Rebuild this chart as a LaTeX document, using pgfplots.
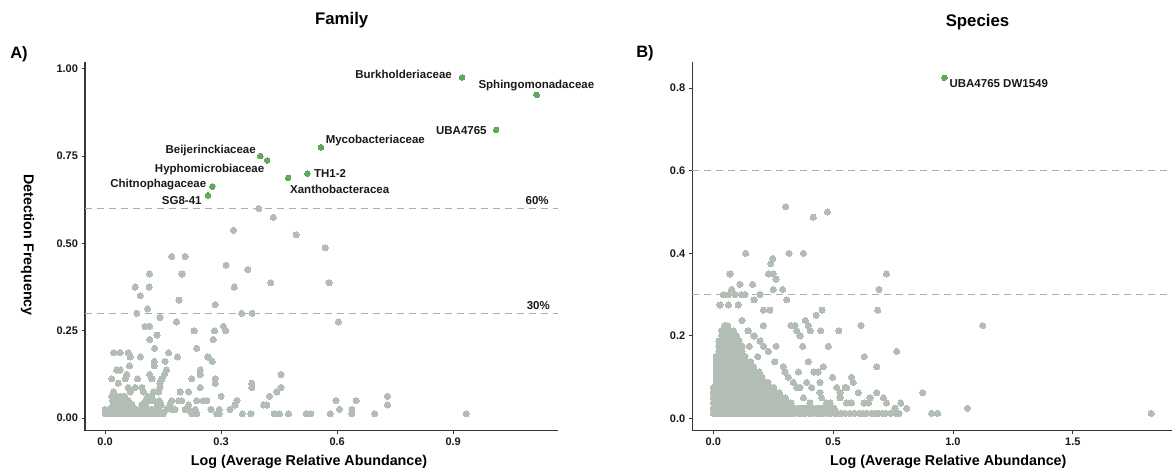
\documentclass[border=0pt]{standalone}
\usepackage{fontspec}
\setmainfont{Liberation Sans}
\usepackage{pgfplots}
\pgfplotsset{compat=1.18}
\definecolor{ptgrey}{RGB}{178,190,181}
\definecolor{ptgreen}{RGB}{98,168,90}
\definecolor{refgrey}{RGB}{172,172,172}
\definecolor{axgrey}{RGB}{55,55,55}
\pgfplotsset{base/.style={scale only axis, axis lines=left,
  axis line style={-, draw=axgrey, line width=1.2pt},
  tick align=outside, major tick length=3.5pt,
  every tick/.style={draw=axgrey, line width=0.9pt},
  tick label style={font=\fontsize{11}{13}\selectfont\bfseries, text=black!90},
  /pgf/number format/assume math mode=true, scaled ticks=false, clip=false},
  greypts/.style={color=ptgrey, only marks, mark=*, mark size=3.1pt, mark options={draw=ptgrey, fill=ptgrey, line width=0pt}},
  greenpts/.style={color=ptgreen, only marks, mark=*, mark size=2.8pt, mark options={draw=ptgreen, fill=ptgreen, line width=0pt}},
  refline/.style={draw=refgrey, line width=1.4pt, dash pattern=on 7pt off 5pt, no marks}}
\tikzset{lab/.style={font=\fontsize{11.5}{13}\selectfont\bfseries, inner sep=0pt, text=black!90}}
\begin{document}
\begin{tikzpicture}
\path[use as bounding box] (0pt,0pt) rectangle (1174pt,474pt);
\node[font=\fontsize{16.5}{18}\selectfont\bfseries, inner sep=0pt] at (19pt,420pt) {A)};
\node[font=\fontsize{16.5}{18}\selectfont\bfseries, inner sep=0pt] at (645pt,421pt) {B)};
\node[font=\fontsize{16.8}{18}\selectfont\bfseries, inner sep=0pt] at (341.7pt,454pt) {Family};
\node[font=\fontsize{16.8}{18}\selectfont\bfseries, inner sep=0pt] at (977.5pt,452.3pt) {Species};
\node[font=\fontsize{14.3}{16}\selectfont\bfseries, inner sep=0pt, rotate=-90] at (27.5pt,229pt) {Detection Frequency};
\node[font=\fontsize{14.3}{16}\selectfont\bfseries, inner sep=0pt] at (309pt,12.3pt) {Log (Average Relative Abundance)};
\node[font=\fontsize{14.3}{16}\selectfont\bfseries, inner sep=0pt] at (948.3pt,12.3pt) {Log (Average Relative Abundance)};

\begin{axis}[base, at={(85pt,43.3pt)}, anchor=south west, width=473pt, height=369pt,
  xmin=-0.052, xmax=1.171, ymin=-0.036, ymax=1.02,
  xtick={0,0.3,0.6,0.9}, ytick={0,0.25,0.5,0.75,1},
  x tick label style={/pgf/number format/fixed,/pgf/number format/fixed zerofill,/pgf/number format/precision=1},
  y tick label style={/pgf/number format/fixed,/pgf/number format/fixed zerofill,/pgf/number format/precision=2}]
\addplot[greypts] coordinates {
(0,.0125)(.01,.0125)(.02,.0125)(.03,.0125)(.04,.0125)(.05,.0125)(.06,.0125)(.07,.0125)(.08,.0125)(.09,.0125)(.1,.0125)(.11,.0125)(.12,.0125)(.13,.0125)(.14,.0125)(.15,.0125)
(0,.025)(.01,.025)(.02,.025)(.03,.025)(.04,.025)(.05,.025)(.06,.025)(.07,.025)(.08,.025)(.09,.025)(.1,.025)(.11,.025)(.12,.025)(.13,.025)(.14,.025)
(.02,.0375)(.03,.0375)(.04,.0375)(.05,.0375)(.06,.0375)(.07,.0375)(.095,.0375)(.105,.0375)(.135,.0375)(.145,.0375)
(.02,.05)(.03,.05)(.04,.05)(.05,.05)(.06,.05)(.105,.05)(.115,.05)(.125,.05)(.14,.05)
(.017,.0625)(.03,.0625)(.04,.0625)(.05,.0625)(.11,.0625)(.12,.0625)
(0.397,0.6)(0.435,0.575)(0.332,0.5375)(0.494,0.525)(0.569,0.4875)(0.172,0.4625)(0.207,0.4625)
(0.313,0.4375)(0.369,0.425)(0.115,0.4125)(0.199,0.4125)(0.428,0.3875)(0.579,0.3875)
(0.078,0.375)(0.114,0.375)(0.334,0.375)(0.091,0.35)(0.191,0.3375)(0.110,0.3125)(0.285,0.325)
(0.082,0.3)(0.353,0.3)(0.380,0.3)(0.142,0.2875)(0.185,0.275)(0.603,0.275)
(0.103,0.2625)(0.115,0.2625)(0.306,0.2625)(0.312,0.25)(0.230,0.25)(0.283,0.25)
(0.134,0.2375)(0.115,0.225)(0.280,0.225)(0.128,0.2)(0.237,0.2)(0.266,0.175)(0.277,0.1625)
(0.022,0.1875)(0.039,0.1875)(0.060,0.1875)(0.065,0.175)(0.091,0.175)(0.187,0.175)(0.164,0.1875)
(0.127,0.1625)(0.127,0.15)(0.155,0.1625)(0.030,0.1375)(0.039,0.1375)(0.063,0.15)
(0.056,0.125)(0.052,0.1125)(0.017,0.1125)(0.034,0.1)(0.084,0.1125)(0.115,0.125)(0.121,0.1125)
(0.147,0.1125)(0.153,0.125)(0.159,0.1375)(0.142,0.1)(0.224,0.1125)(0.246,0.1375)(0.246,0.125)
(0.285,0.1125)(0.285,0.1)(0.379,0.1)(0.379,0.0875)(0.455,0.125)(0.455,0.0875)(0.444,0.075)(0.425,0.0625)
(0.022,0.075)(0.023,0.0625)(0.060,0.0875)(0.065,0.075)(0.078,0.0875)(0.095,0.0875)(0.099,0.075)
(0.125,0.075)(0.138,0.075)(0.142,0.0875)(0.194,0.075)(0.216,0.075)(0.246,0.0875)(0.300,0.0625)
(0.237,0.05)(0.254,0.05)(0.263,0.05)(0.341,0.05)(0.336,0.0375)(0.418,0.0375)(0.410,0.0375)
(0.597,0.05)(0.649,0.05)(0.730,0.0625)(0.730,0.0375)(0.638,0.025)(0.638,0.0125)(0.606,0.025)
(0.355,0.0125)(0.377,0.0125)(0.437,0.0125)(0.451,0.0125)(0.474,0.0125)(0.520,0.0125)(0.532,0.0125)
(0.582,0.0125)(0.697,0.0125)(0.934,0.0125)(0.323,0.025)(0.295,0.025)(0.295,0.0125)(0.289,0.0125)
(0.274,0.025)(0.233,0.025)(0.237,0.0125)(0.224,0.0125)(0.216,0.0375)(0.207,0.025)(0.216,0.025)
(0.190,0.05)(0.198,0.05)(0.172,0.05)(0.168,0.0375)(0.159,0.025)(0.172,0.025)(0.181,0.025)
};
\addplot[refline] coordinates {(-0.052,0.6)(1.171,0.6)};
\addplot[refline] coordinates {(-0.052,0.3)(1.171,0.3)};
\addplot[greenpts] coordinates {
(0.923,0.975)(1.116,0.925)(1.011,0.825)(0.558,0.775)(0.401,0.75)(0.419,0.7375)
(0.473,0.6875)(0.523,0.7)(0.277,0.6625)(0.266,0.6375)};
\node[lab, anchor=east] at (axis cs:0.897,0.984) {Burkholderiaceae};
\node[lab, anchor=west] at (axis cs:0.965,0.951) {Sphingomonadaceae};
\node[lab, anchor=east] at (axis cs:0.987,0.824) {UBA4765};
\node[lab, anchor=west] at (axis cs:0.570,0.794) {Mycobacteriaceae};
\node[lab, anchor=east] at (axis cs:0.390,0.767) {Beijerinckiaceae};
\node[lab, anchor=east] at (axis cs:0.412,0.712) {Hyphomicrobiaceae};
\node[lab, anchor=west] at (axis cs:0.540,0.699) {TH1-2};
\node[lab, anchor=west] at (axis cs:0.478,0.655) {Xanthobacteracea};
\node[lab, anchor=east] at (axis cs:0.262,0.669) {Chitnophagaceae};
\node[lab, anchor=east] at (axis cs:0.250,0.624) {SG8-41};
\node[lab] at (axis cs:1.117,0.622) {60\%};
\node[lab] at (axis cs:1.120,0.321) {30\%};
\end{axis}

\begin{axis}[base, at={(692.3pt,43.3pt)}, anchor=south west, width=479.7pt, height=369pt,
  xmin=-0.0876, xmax=1.914, ymin=-0.0295, ymax=0.864,
  xtick={0,0.5,1,1.5}, ytick={0,0.2,0.4,0.6,0.8},
  x tick label style={/pgf/number format/fixed,/pgf/number format/fixed zerofill,/pgf/number format/precision=1},
  y tick label style={/pgf/number format/fixed,/pgf/number format/fixed zerofill,/pgf/number format/precision=1}]
\addplot[greypts] coordinates {
(0,.0125)(0,.025)(0,.0375)(0,.05)(0,.0625)(0,.075)
(.012,.0125)(.012,.025)(.012,.0375)(.012,.05)(.012,.0625)(.012,.075)(.012,.0875)(.012,.1)(.012,.1125)(.012,.125)(.012,.1375)(.012,.15)
(.024,.0125)(.024,.025)(.024,.0375)(.024,.05)(.024,.0625)(.024,.075)(.024,.0875)(.024,.1)(.024,.1125)(.024,.125)(.024,.1375)(.024,.15)(.024,.1625)(.024,.175)(.024,.1875)
(.036,.0125)(.036,.025)(.036,.0375)(.036,.05)(.036,.0625)(.036,.075)(.036,.0875)(.036,.1)(.036,.1125)(.036,.125)(.036,.1375)(.036,.15)(.036,.1625)(.036,.175)(.036,.1875)(.036,.2)(.036,.2125)
(.048,.0125)(.048,.025)(.048,.0375)(.048,.05)(.048,.0625)(.048,.075)(.048,.0875)(.048,.1)(.048,.1125)(.048,.125)(.048,.1375)(.048,.15)(.048,.1625)(.048,.175)(.048,.1875)(.048,.2)(.048,.2125)(.048,.225)
(.06,.0125)(.06,.025)(.06,.0375)(.06,.05)(.06,.0625)(.06,.075)(.06,.0875)(.06,.1)(.06,.1125)(.06,.125)(.06,.1375)(.06,.15)(.06,.1625)(.06,.175)(.06,.1875)(.06,.2)(.06,.2125)(.06,.225)
(.072,.0125)(.072,.025)(.072,.0375)(.072,.05)(.072,.0625)(.072,.075)(.072,.0875)(.072,.1)(.072,.1125)(.072,.125)(.072,.1375)(.072,.15)(.072,.1625)(.072,.175)(.072,.1875)(.072,.2)(.072,.2125)
(.084,.0125)(.084,.025)(.084,.0375)(.084,.05)(.084,.0625)(.084,.075)(.084,.0875)(.084,.1)(.084,.1125)(.084,.125)(.084,.1375)(.084,.15)(.084,.1625)(.084,.175)(.084,.1875)(.084,.2)(.084,.2125)
(.096,.0125)(.096,.025)(.096,.0375)(.096,.05)(.096,.0625)(.096,.075)(.096,.0875)(.096,.1)(.096,.1125)(.096,.125)(.096,.1375)(.096,.15)(.096,.1625)(.096,.175)(.096,.1875)(.096,.2)
(.108,.0125)(.108,.025)(.108,.0375)(.108,.05)(.108,.0625)(.108,.075)(.108,.0875)(.108,.1)(.108,.1125)(.108,.125)(.108,.1375)(.108,.15)(.108,.1625)(.108,.175)(.108,.1875)
(.12,.0125)(.12,.025)(.12,.0375)(.12,.05)(.12,.0625)(.12,.075)(.12,.0875)(.12,.1)(.12,.1125)(.12,.125)(.12,.1375)(.12,.15)(.12,.1625)(.12,.175)
(.132,.0125)(.132,.025)(.132,.0375)(.132,.05)(.132,.0625)(.132,.075)(.132,.0875)(.132,.1)(.132,.1125)(.132,.125)(.132,.1375)(.132,.15)
(.144,.0125)(.144,.025)(.144,.0375)(.144,.05)(.144,.0625)(.144,.075)(.144,.0875)(.144,.1)(.144,.1125)(.144,.125)(.144,.1375)
(.156,.0125)(.156,.025)(.156,.0375)(.156,.05)(.156,.0625)(.156,.075)(.156,.0875)(.156,.1)(.156,.1125)(.156,.125)(.156,.1375)
(.168,.0125)(.168,.025)(.168,.0375)(.168,.05)(.168,.0625)(.168,.075)(.168,.0875)(.168,.1)(.168,.1125)(.168,.125)
(.18,.0125)(.18,.025)(.18,.0375)(.18,.05)(.18,.0625)(.18,.075)(.18,.0875)(.18,.1)(.18,.1125)
(.192,.0125)(.192,.025)(.192,.0375)(.192,.05)(.192,.0625)(.192,.075)(.192,.0875)(.192,.1)(.192,.1125)
(.204,.0125)(.204,.025)(.204,.0375)(.204,.05)(.204,.0625)(.204,.075)(.204,.0875)(.204,.1)
(.216,.0125)(.216,.025)(.216,.0375)(.216,.05)(.216,.0625)(.216,.075)(.216,.0875)
(.228,.0125)(.228,.025)(.228,.0375)(.228,.05)(.228,.0625)(.228,.075)(.228,.0875)
(.24,.0125)(.24,.025)(.24,.0375)(.24,.05)(.24,.0625)(.24,.075)
(.252,.0125)(.252,.025)(.252,.0375)(.252,.05)(.252,.0625)(.252,.075)
(.264,.0125)(.264,.025)(.264,.0375)(.264,.05)(.264,.0625)
(.276,.0125)(.276,.025)(.276,.0375)(.276,.05)(.276,.0625)
(.288,.0125)(.288,.025)(.288,.0375)(.288,.05)
(.3,.0125)(.3,.025)(.3,.0375)(.3,.05)
(.312,.0125)(.312,.025)(.312,.0375)
(.324,.0125)(.324,.025)(.324,.0375)
(.34,.0125)(.34,.025)(.355,.0125)(.355,.025)(.37,.0125)(.37,.025)(.385,.0125)(.385,.025)
(.4,.0125)(.4,.025)(.415,.0125)(.415,.025)(.43,.0125)(.43,.025)(.445,.0125)(.445,.025)
(.46,.0125)(.46,.025)(.475,.0125)(.475,.025)(.49,.0125)(.49,.025)(.505,.0125)(.505,.025)
(.52,.0125)(.535,.0125)(.55,.0125)(.57,.0125)(.59,.0125)(.61,.0125)(.625,.0125)(.64,.0125)
(.66,.0125)(.675,.0125)(.69,.0125)(.705,.0125)(.72,.0125)(.74,.0125)(.76,.0125)(.775,.0125)
(0.302,0.5125)(0.417,0.4875)(0.476,0.5)(0.135,0.4)(0.316,0.4)(0.376,0.4)
(0.070,0.35)(0.230,0.35)(0.250,0.35)(0.723,0.35)(0.248,0.3875)(0.239,0.375)(0.262,0.3375)
(0.111,0.325)(0.077,0.3125)(0.164,0.325)(0.289,0.3125)(0.250,0.3125)(0.691,0.3125)
(0.195,0.3)(0.306,0.2875)(0.170,0.2875)
(0.042,0.3)(0.063,0.3)(0.091,0.3)(0.118,0.3)(0.132,0.3)(0.028,0.275)(0.063,0.275)(0.104,0.275)
(0.454,0.2625)(0.686,0.2625)(0.236,0.2625)(0.209,0.2625)
(0.429,0.25)(0.384,0.2375)(0.397,0.225)(0.404,0.2125)(0.324,0.225)(0.341,0.225)
(0.348,0.2125)(0.362,0.2)(0.373,0.175)(0.209,0.225)(0.616,0.225)(1.124,0.225)
(0.524,0.2125)(0.448,0.2125)(0.480,0.175)(0.630,0.15)(0.765,0.1625)(0.682,0.125)(0.459,0.125)
(0.420,0.1125)(0.438,0.1125)(0.355,0.1125)(0.396,0.1375)(0.498,0.1)(0.515,0.075)
(0.577,0.1)(0.584,0.0875)(0.550,0.075)(0.529,0.0625)(0.529,0.05)(0.682,0.0625)
(0.710,0.05)(0.723,0.0375)(0.654,0.05)(0.874,0.0625)(0.807,0.025)(0.782,0.0375)(0.758,0.025)
(1.061,0.025)(0.911,0.0125)(0.936,0.0125)(1.827,0.0125)(0.445,0.0875)
(0.257,0.1375)(0.292,0.125)(0.299,0.1125)(0.262,0.175)(0.313,0.1)(0.334,0.0875)(0.348,0.075)(0.362,0.075)
(0.39,0.0875)(0.41,0.075)(0.445,0.0625)(0.452,0.05)(0.556,0.075)(0.605,0.0625)(0.629,0.0375)(0.647,0.0375)
(0.556,0.0375)(0.577,0.0375)(0.473,0.0375)(0.487,0.0375)(0.403,0.0375)(0.376,0.05)
(0.195,0.1875)(0.21,0.175)(0.23,0.1625)(0.15,0.175)(0.17,0.2)(0.185,0.15)(0.145,0.2125)(0.12,0.2375)
};
\addplot[refline] coordinates {(-0.0876,0.6)(1.914,0.6)};
\addplot[refline] coordinates {(-0.0876,0.3)(1.914,0.3)};
\addplot[greenpts] coordinates {(0.964,0.825)};
\node[lab, anchor=west] at (axis cs:0.985,0.812) {UBA4765 DW1549};
\end{axis}
\end{tikzpicture}
\end{document}
